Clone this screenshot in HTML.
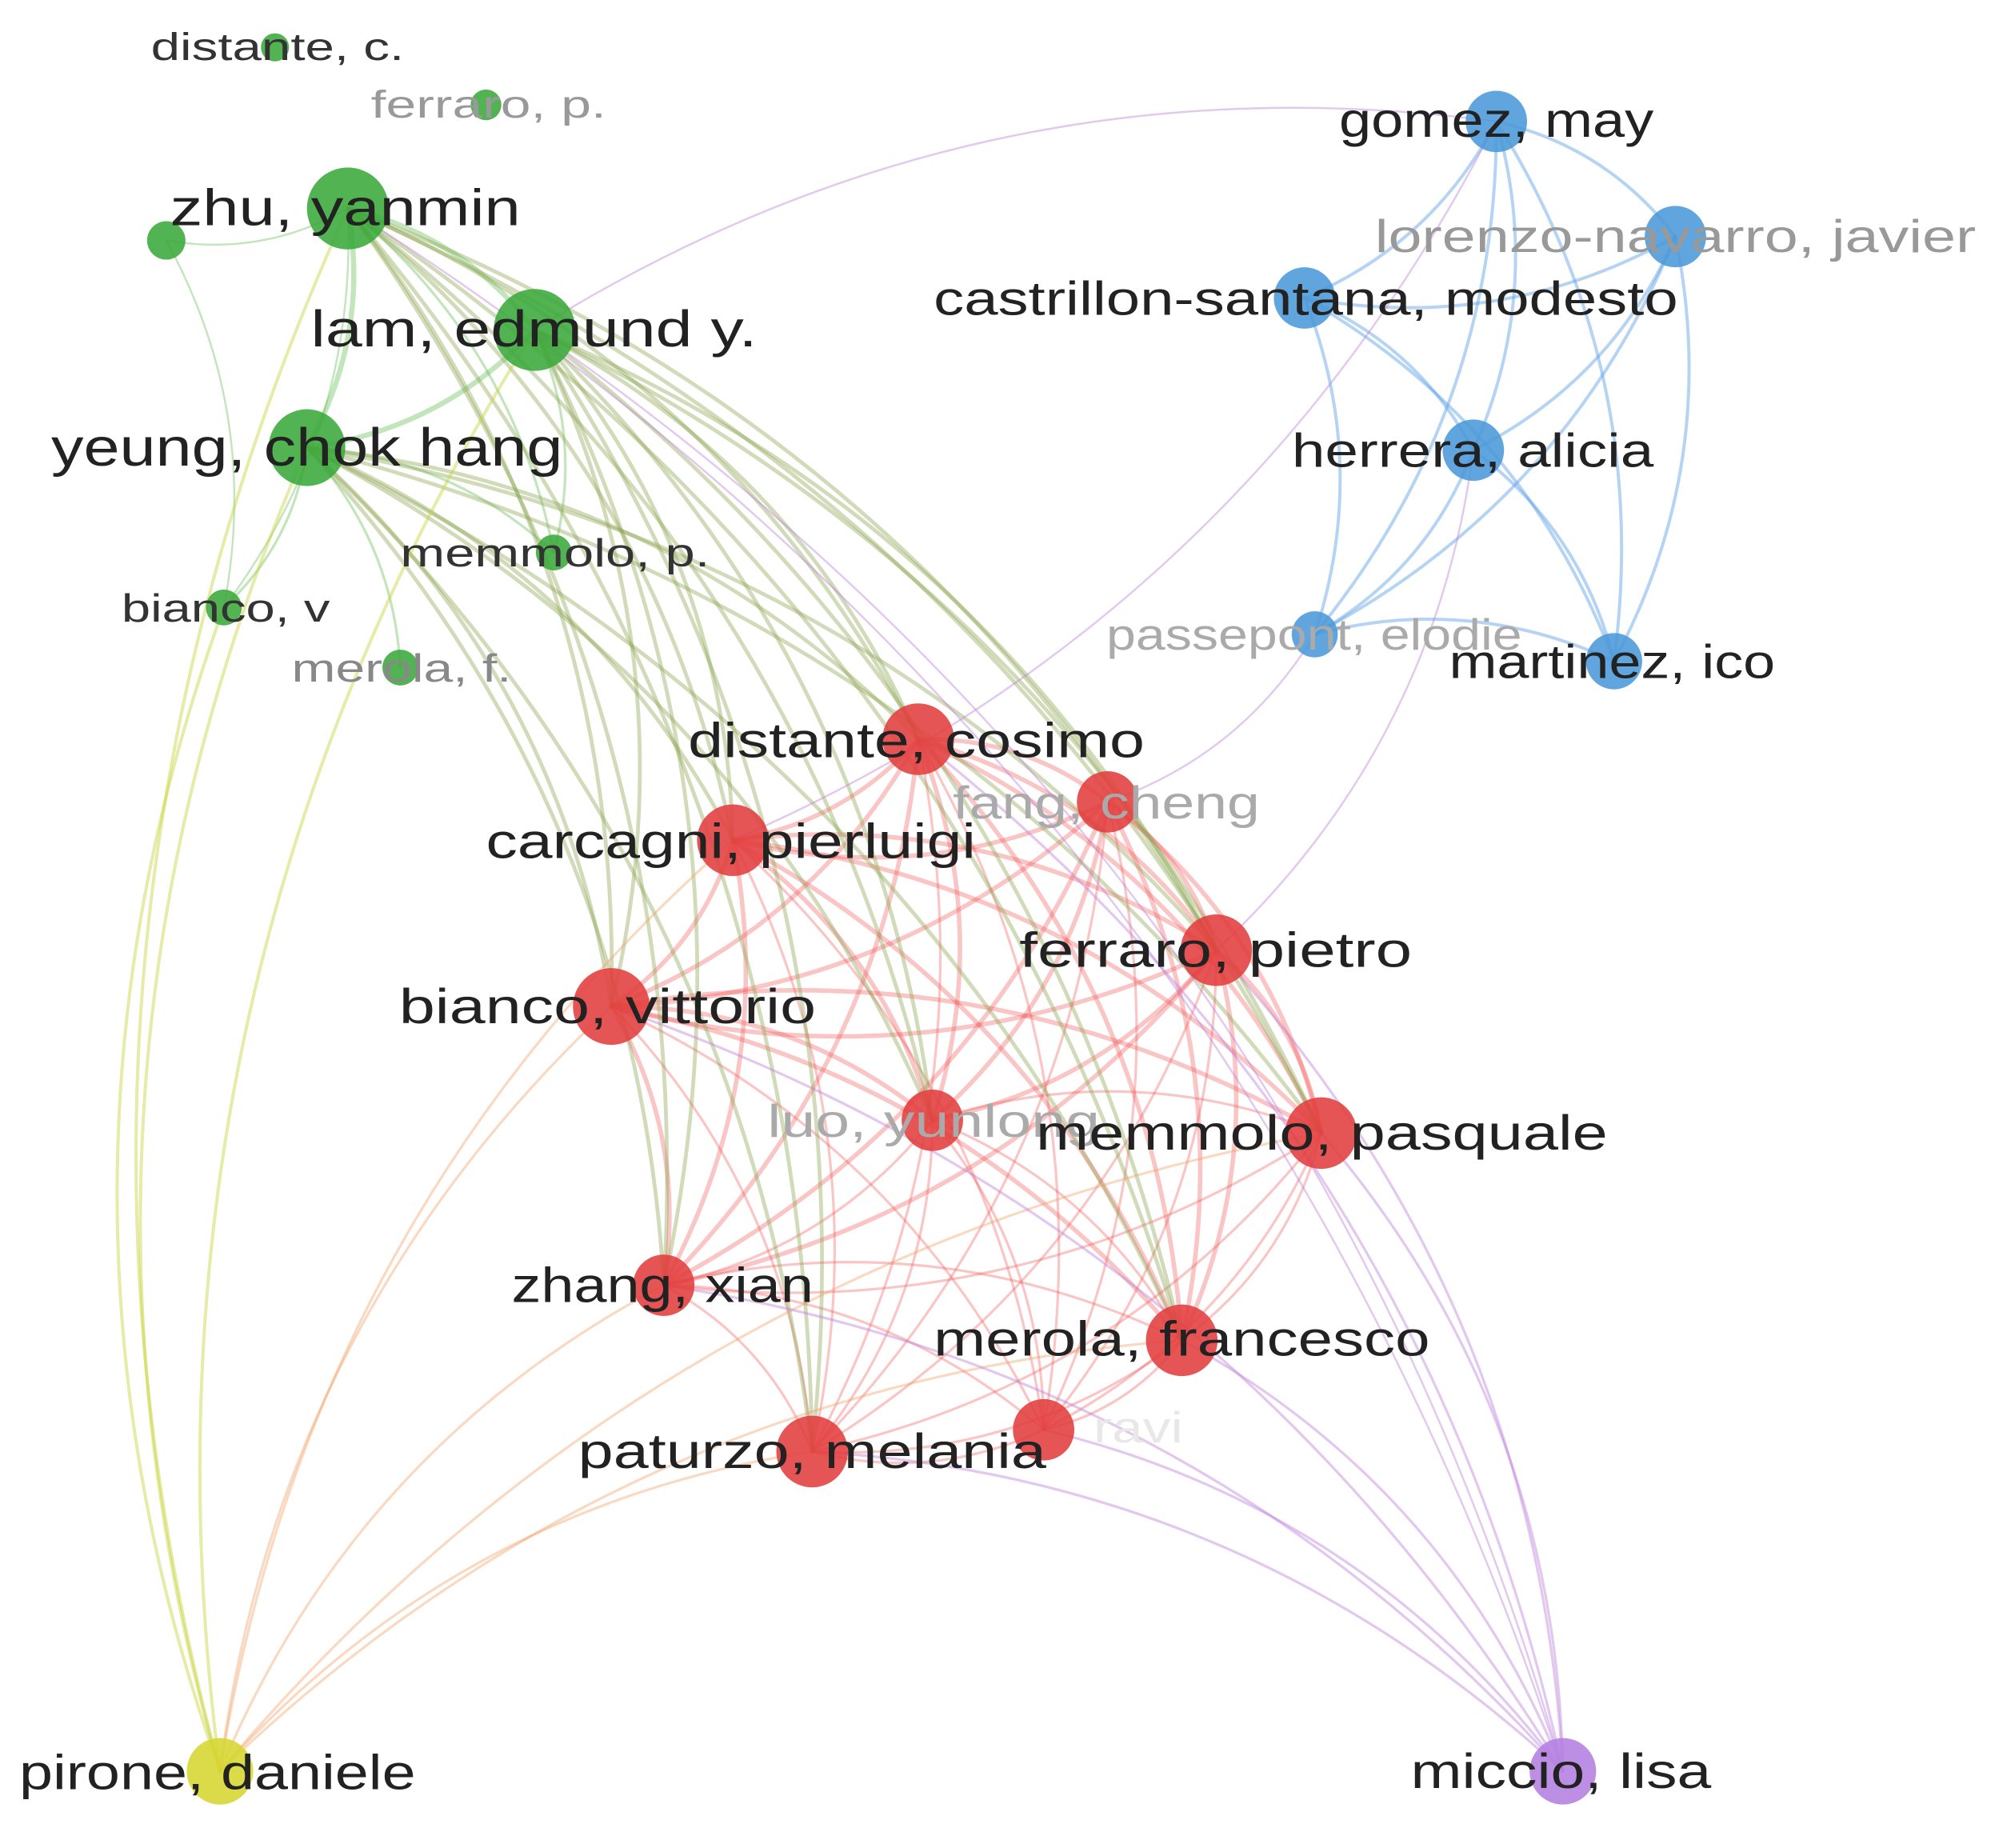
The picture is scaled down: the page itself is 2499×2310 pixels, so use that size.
<!DOCTYPE html>
<html><head><meta charset="utf-8"><style>
html,body{margin:0;padding:0;background:#fff;}
svg{display:block;}
text{font-family:"Liberation Sans",sans-serif;}
</style></head><body>
<svg id="s" width="2499" height="2310" viewBox="0 0 1563 1445" preserveAspectRatio="none" xmlns="http://www.w3.org/2000/svg">
<g id="edges" fill="none" stroke-linecap="round"></g>
<g id="nodes"></g>
<g id="labels"></g>
</svg>
<script>
var N={
dc:[215,37,11,'g'],fp:[380,82,12,'g'],zhu:[272,163,32,'g'],sm:[130,188,15,'g'],lam:[418,258,32,'g'],yeu:[240,350,30,'g'],mp:[433,432,14,'g'],bv:[175,475,14,'g'],mf:[313,522,14,'g'],
gom:[1170,95,24,'b'],lor:[1310,185,24,'b'],cas:[1020,233,24,'b'],her:[1152,352,24,'b'],pas:[1028,496,18,'b'],mar:[1262,517,22,'b'],
dcos:[718,578,28,'r'],fan:[866,627,24,'r'],car:[573,657,28,'r'],fer:[951,743,28,'r'],bvi:[478,787,30,'r'],luo:[729,876,24,'r'],mem:[1033,886,28,'r'],zha:[519,1005,24,'r'],mer:[924,1048,28,'r'],rav:[816,1118,24,'r'],pat:[635,1135,28,'r'],
pir:[172,1385,26,'y'],mic:[1222,1385,26,'p']};
var C={g:'#3aa83a',b:'#4a98d8',r:'#e23e3e',y:'#d6d630',p:'#b47fe0'};
var EC={g:'rgba(80,180,60,0.35)',b:'rgba(90,160,230,0.45)',r:'rgba(240,90,90,0.35)',y:'rgba(200,210,60,0.45)',p:'rgba(190,130,220,0.45)',gr:'rgba(140,165,80,0.4)',o:'rgba(240,160,100,0.4)'};
var E=[];
function add(a,b,w,c){E.push([a,b,w||2,c]);}
var reds=['dcos','fan','car','fer','bvi','luo','mem','zha','mer','rav','pat'];
for(var i=0;i<reds.length;i++)for(var j=i+1;j<reds.length;j++)add(reds[i],reds[j],(i<5&&j<9)?3.5:2,'r');
var blues=['gom','lor','cas','her','pas','mar'];
for(var i=0;i<blues.length;i++)for(var j=i+1;j<blues.length;j++)add(blues[i],blues[j],2.5,'b');
var gb=['zhu','lam','yeu'];
add('zhu','lam',4,'g');add('zhu','yeu',4,'g');add('lam','yeu',4,'g');
add('zhu','sm',1.5,'g');add('sm','bv',1.5,'g');add('yeu','bv',2,'g');add('yeu','mp',2,'g');add('zhu','mp',2,'g');add('yeu','mf',2,'g');add('lam','mp',2,'g');add('zhu','bv',1.5,'g');
gb.forEach(function(g){['dcos','car','fer','bvi','mem','zha','mer','pat','luo'].forEach(function(r){add(g,r,3,'gr');});});
['zhu','lam','yeu','bv'].forEach(function(g){add('pir',g,2.5,'y');});
['bvi','zha','pat','mer','car','mem'].forEach(function(r){add('pir',r,2,'o');});
['fer','mem','mer','bvi','pat','dcos','zha','rav'].forEach(function(r){add(r,'mic',2,'p');});
add('zhu','mic',1.5,'p');add('lam','mic',1.5,'p');
add('gom','car',1.5,'p');add('pas','fan',1.5,'p');add('her','fer',1.5,'p');add('lam','gom',1.5,'p');
var eg=document.getElementById('edges'),ns='http://www.w3.org/2000/svg';
E.forEach(function(e){var a=N[e[0]],b=N[e[1]];var dx=b[0]-a[0],dy=b[1]-a[1];var k=-0.18;
var cx=(a[0]+b[0])/2-dy*k,cy=(a[1]+b[1])/2+dx*k;
var p=document.createElementNS(ns,'path');p.setAttribute('d','M'+a[0]+','+a[1]+' Q'+cx+','+cy+' '+b[0]+','+b[1]);
p.setAttribute('stroke',EC[e[3]]);p.setAttribute('stroke-width',e[2]);eg.appendChild(p);});
var ng=document.getElementById('nodes');
for(var k in N){var n=N[k];var c=document.createElementNS(ns,'circle');c.setAttribute('cx',n[0]);c.setAttribute('cy',n[1]);c.setAttribute('r',n[2]);c.setAttribute('fill',C[n[3]]);c.setAttribute('opacity','0.88');ng.appendChild(c);}
var L=[
['distante, c.',118,47,198,30,'#333'],['ferraro, p.',290,92,184,30,'#999'],['zhu, yanmin',133,176,274,40,'#222'],['lam, edmund y.',243,271,349,40,'#222'],
['yeung, chok hang',40,364,400,42,'#222'],['memmolo, p.',313,443,242,31,'#333'],['bianco, v',95,486,163,31,'#333'],['merola, f.',228,533,172,31,'#888'],
['gomez, may',1047,107,246,38,'#222'],['lorenzo-navarro, javier',1075,197,470,36,'#999'],['castrillon-santana, modesto',730,246,582,37,'#222'],['herrera, alicia',1010,365,283,37,'#222'],
['passepont, elodie',865,508,325,34,'#aaa'],['martinez, ico',1133,530,255,37,'#222'],
['distante, cosimo',538,592,357,38,'#222'],['fang, cheng',745,640,240,36,'#aaa'],['carcagni, pierluigi',380,671,383,38,'#222'],['ferraro, pietro',797,756,307,38,'#222'],
['bianco, vittorio',312,800,326,38,'#222'],['luo, yunlong',600,889,260,36,'#aaa'],['memmolo, pasquale',810,899,447,38,'#222'],['zhang, xian',400,1018,236,38,'#222'],
['merola, francesco',730,1060,388,38,'#222'],['ravi',855,1128,70,34,'#e8e8e8'],['paturzo, melania',452,1148,366,38,'#222'],['pirone, daniele',15,1399,310,38,'#222'],['miccio, lisa',1103,1398,235,38,'#222']];
var lg=document.getElementById('labels');
L.forEach(function(l){var t=document.createElementNS(ns,'text');t.setAttribute('x',l[1]);t.setAttribute('y',l[2]);t.setAttribute('textLength',l[3]);t.setAttribute('lengthAdjust','spacingAndGlyphs');t.setAttribute('font-size',l[4]);t.setAttribute('fill',l[5]);t.textContent=l[0];lg.appendChild(t);});
</script>
</body></html>
